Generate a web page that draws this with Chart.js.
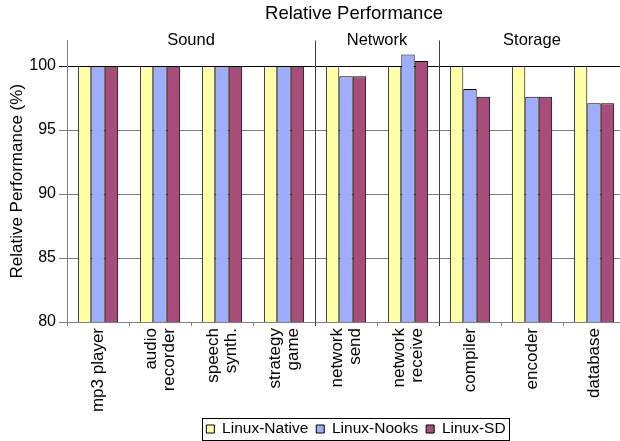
<!DOCTYPE html>
<html>
<head>
<meta charset="utf-8">
<script src="https://cdn.jsdelivr.net/npm/chart.js@4/dist/chart.umd.min.js"></script>
<style>
  html, body { margin: 0; padding: 0; background: #fff; overflow: hidden; }
  #wrap { width: 626px; height: 441px; }
</style>
</head>
<body>
<div id="wrap"><canvas id="c" width="626" height="441"></canvas></div>
<script>
const categories = [
  ['mp3 player'], ['audio', 'recorder'], ['speech', 'synth.'], ['strategy', 'game'],
  ['network', 'send'], ['network', 'receive'],
  ['compiler'], ['encoder'], ['database']
];
const linuxNative = [100, 100, 100, 100, 100, 100, 100, 100, 100];
const linuxNooks  = [100, 100, 100, 100, 99.2, 100.9, 98.2, 97.6, 97.1];
const linuxSD     = [100, 100, 100, 100, 99.2, 100.4, 97.6, 97.6, 97.1];
const groupNames = ['Sound', 'Network', 'Storage'];
const groupFirst = [0, 4, 6];
const groupLast  = [3, 5, 8];
const yTicks = [80, 85, 90, 95, 100];

const FONT = 'Liberation Sans, Arial, sans-serif';
const TITLE_CX = 354, LEGEND_CX = 356, LEGEND_CY = 429, PLOT_BOTTOM = 322;
const X_FONT = 17, X_LH = 1.08;

const groupPlugin = {
  id: 'groups',
  beforeLayout(chart) {
    const lg = chart.legend;
    if (lg && !lg._fitWrapped) {
      const orig = lg.fit;
      lg.fit = function () { orig.call(this); this.height = Math.min(this.height, 12); };
      lg._fitWrapped = true;
    }
  },
  afterLayout(chart) {
    const t = chart.titleBlock;
    if (t) { const dx = TITLE_CX - (t.left + t.right) / 2; t.left += dx; t.right += dx; }
  },
  afterUpdate(chart) {
    const lg = chart.legend;
    if (!lg || !lg.legendHitBoxes || !lg.legendHitBoxes.length) return;
    const hb = lg.legendHitBoxes;
    let l = Infinity, r = -Infinity, t = Infinity, b = -Infinity;
    hb.forEach(h => { l = Math.min(l, h.left); r = Math.max(r, h.left + h.width); t = Math.min(t, h.top); b = Math.max(b, h.top + h.height); });
    const dx = LEGEND_CX - (l + r) / 2;
    const dy = LEGEND_CY - (t + b) / 2;
    lg.left += dx; lg.right += dx; lg.top += dy;
    lg.bottom = chart.height; lg.height = lg.bottom - lg.top;
    hb.forEach(h => { h.left += dx; h.top += dy; });
  },
  beforeDraw(chart) {
    // center multi-line rotated category labels on their tick
    const x = chart.scales.x;
    const items = x.getLabelItems(chart.chartArea);
    if (items._centered) return;
    const lh = X_FONT * X_LH;
    items.forEach(it => {
      const n = Array.isArray(it.label) ? it.label.length : 1;
      if (n > 1) it.options.translation[0] -= (n - 1) * lh / 2;
    });
    items._centered = true;
  },
  afterDatasetsDraw(chart) {
    const ctx = chart.ctx, x = chart.scales.x, area = chart.chartArea;
    ctx.save();
    ctx.strokeStyle = '#404040';
    ctx.lineWidth = 1;
    for (let g = 1; g < groupNames.length; g++) {
      const px = Math.round((x.getPixelForValue(groupLast[g - 1]) + x.getPixelForValue(groupFirst[g])) / 2) + 0.5;
      ctx.beginPath();
      ctx.moveTo(px, area.top);
      ctx.lineTo(px, area.bottom + 4);
      ctx.stroke();
    }
    ctx.fillStyle = '#000';
    ctx.font = '16.5px ' + FONT;
    ctx.textAlign = 'center';
    ctx.textBaseline = 'middle';
    const half = (x.getPixelForValue(1) - x.getPixelForValue(0)) / 2;
    for (let g = 0; g < groupNames.length; g++) {
      const l = x.getPixelForValue(groupFirst[g]) - half;
      const r = x.getPixelForValue(groupLast[g]) + half;
      ctx.fillText(groupNames[g], (l + r) / 2, area.top);
    }
    ctx.restore();
  },
  afterDraw(chart) {
    const lg = chart.legend;
    if (!lg || !lg.legendHitBoxes || !lg.legendHitBoxes.length) return;
    const hb = lg.legendHitBoxes;
    let l = Infinity, r = -Infinity, t = Infinity, b = -Infinity;
    hb.forEach(h => { l = Math.min(l, h.left); r = Math.max(r, h.left + h.width); t = Math.min(t, h.top); b = Math.max(b, h.top + h.height); });
    const ctx = chart.ctx;
    ctx.save();
    ctx.strokeStyle = '#000';
    ctx.lineWidth = 1;
    ctx.strokeRect(Math.round(l - 4) + 0.5, Math.round(t - 3) + 0.5, Math.round(r - l + 8), Math.round(b - t + 6));
    ctx.restore();
  }
};

new Chart(document.getElementById('c'), {
  type: 'bar',
  data: {
    labels: categories,
    datasets: [
      { label: 'Linux-Native', data: linuxNative, backgroundColor: '#FFFFA6', borderColor: '#000', borderWidth: 1 },
      { label: 'Linux-Nooks',  data: linuxNooks,  backgroundColor: '#9DADFF', borderColor: '#000', borderWidth: 1 },
      { label: 'Linux-SD',     data: linuxSD,     backgroundColor: '#A64D79', borderColor: '#000', borderWidth: 1 }
    ]
  },
  options: {
    responsive: false,
    animation: false,
    devicePixelRatio: 1,
    layout: { padding: { left: 0, right: 1, top: 0, bottom: 1 } },
    datasets: { bar: { categoryPercentage: 0.65, barPercentage: 1.0 } },
    plugins: {
      title: {
        display: true, text: 'Relative Performance', color: '#000',
        font: { family: FONT, size: 18.5, weight: 'normal' },
        padding: { top: 3, bottom: 15.3 }
      },
      legend: {
        position: 'bottom',
        labels: {
          color: '#000', boxWidth: 8, boxHeight: 8, padding: 8,
          font: { family: FONT, size: 15.5 }
        }
      },
      tooltip: { enabled: false }
    },
    scales: {
      x: {
        grid: { display: true, drawOnChartArea: false, drawTicks: true, tickLength: 4, color: '#808080', offset: true },
        border: { display: true, color: '#808080' },
        ticks: {
          color: '#000', minRotation: 90, maxRotation: 90, autoSkip: false, padding: 2,
          font: { family: FONT, size: X_FONT, lineHeight: X_LH }
        },
        afterFit(scale) {
          const c = scale.chart;
          const lh = c.legend ? c.legend.height : 0;
          scale.height = c.height - 1 - lh - PLOT_BOTTOM;
        }
      },
      y: {
        min: 80, max: 102,
        afterBuildTicks(scale) { scale.ticks = yTicks.map(v => ({ value: v })); },
        grid: {
          color: ctx => (ctx.tick && ctx.tick.value === 100) ? '#000' : '#808080',
          tickLength: 8, drawTicks: true
        },
        border: { display: true, color: '#808080' },
        ticks: { color: '#000', padding: 3, font: { family: FONT, size: 16 } },
        title: {
          display: true, text: 'Relative Performance (%)', color: '#000',
          font: { family: FONT, size: 17 }, padding: { top: 7, bottom: 0 }
        },
        afterFit(scale) { scale.width = 67; }
      }
    }
  },
  plugins: [groupPlugin]
});
</script>
</body>
</html>
